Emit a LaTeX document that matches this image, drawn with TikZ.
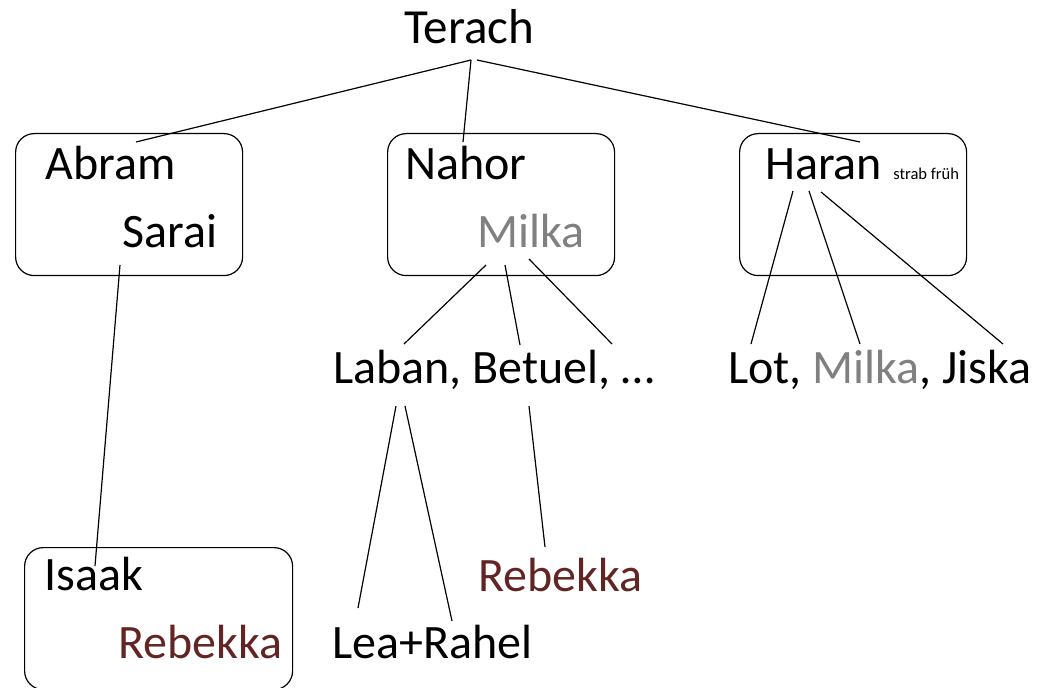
\documentclass[tikz,border=0pt]{standalone}
\usepackage{fontspec}
\setmainfont{Carlito}
\definecolor{milkagray}{RGB}{128,128,128}
\definecolor{rebred}{RGB}{99,37,35}
\begin{document}
\begin{tikzpicture}[x=0.75pt,y=-0.75pt,
  pname/.style={anchor=base west,inner sep=0pt,font=\fontsize{36}{43}\selectfont},
  small/.style={anchor=base west,inner sep=0pt,font=\fontsize{12.4}{14}\selectfont},
  famrect/.style={draw,rounded corners=14pt,line width=0.9pt,minimum width=170.25pt,minimum height=106.5pt,inner sep=0pt},
  link/.style={line width=0.9pt}]
\useasboundingbox (0,0) rectangle (1040,688);
% boxes
\node[famrect,anchor=north west] (boxA) at (15,133) {};
\node[famrect,anchor=north west] (boxN) at (387,133) {};
\node[famrect,anchor=north west] (boxH) at (739,133) {};
\node[famrect,anchor=north west,minimum width=201pt] (boxI) at (24,547) {};
% texts
\node[pname,font=\fontsize{36.8}{43}\selectfont] (terach) at (404,44) {Terach};
\node[pname] (abram) at (45,180) {Abram};
\node[pname] (sarai) at (122,248) {Sarai};
\node[pname] (nahor) at (405,180) {Nahor};
\node[pname,text=milkagray] (milka) at (477,248) {Milka};
\node[pname] (haran) at (765,180) {Haran};
\node[small] (strab) at (893,180) {strab früh};
\node[pname] (laban) at (333,383) {Laban, Betuel, …};
\node[pname] (lot) at (728,383) {Lot, {\color{milkagray}Milka}, Jiska};
\node[pname] (isaak) at (44,590) {Isaak};
\node[pname,text=rebred] (rebA) at (118,658) {Rebekka};
\node[pname,text=rebred] (rebB) at (478,591) {Rebekka};
\node[pname] (learahel) at (332,658) {Lea+Rahel};
% connector endpoints
\coordinate (tL) at (471,60);
\coordinate (tR) at (477,60);
\coordinate (aT) at (136,142);
\coordinate (nT) at (463,142);
\coordinate (hT) at (860,142);
\coordinate (sB) at (120,265);
\coordinate (iT) at (95,566);
\coordinate (m1) at (486,265);
\coordinate (m2) at (505,265);
\coordinate (m3) at (529,259);
\coordinate (l1) at (404,344);
\coordinate (l2) at (520,345);
\coordinate (l3) at (612,344);
\coordinate (h1) at (793,191);
\coordinate (h2) at (809,191);
\coordinate (h3) at (821,192);
\coordinate (o1) at (751,344);
\coordinate (o2) at (860,344);
\coordinate (o3) at (1003,344);
\coordinate (b1) at (396,406);
\coordinate (b2) at (405,406);
\coordinate (b3) at (529,406);
\coordinate (e1) at (358,608);
\coordinate (e2) at (452,621);
\coordinate (r1) at (545,547);
% connectors
\draw[link] (tL) -- (aT);
\draw[link] (tL) -- (nT);
\draw[link] (tR) -- (hT);
\draw[link] (sB) -- (iT);
\draw[link] (m1) -- (l1);
\draw[link] (m2) -- (l2);
\draw[link] (m3) -- (l3);
\draw[link] (h1) -- (o1);
\draw[link] (h2) -- (o2);
\draw[link] (h3) -- (o3);
\draw[link] (b1) -- (e1);
\draw[link] (b2) -- (e2);
\draw[link] (b3) -- (r1);
\end{tikzpicture}
\end{document}
